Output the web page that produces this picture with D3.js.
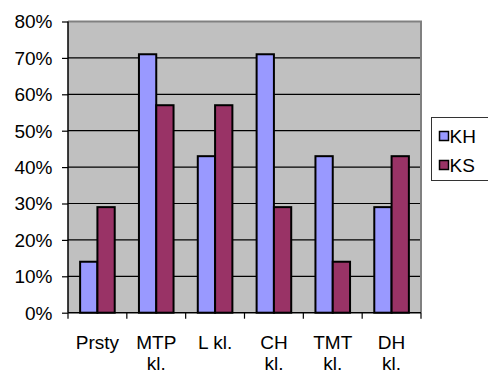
<!DOCTYPE html>
<html><head><meta charset="utf-8">
<script src="https://cdn.jsdelivr.net/npm/d3@7"></script>
<style>body{margin:0;background:#fff}svg{display:block}text{font-family:"Liberation Sans",Arial,sans-serif}</style>
</head><body><svg id="c" width="488" height="374"></svg>
<script>
const categories = [["Prsty"],["MTP","kl."],["L kl."],["CH","kl."],["TMT","kl."],["DH","kl."]];
const seriesNames = ["KH","KS"];
const kh = [14, 71, 43, 71, 43, 29];
const ks = [29, 57, 57, 29, 14, 43];
const yTicks = [0,10,20,30,40,50,60,70,80];
const colors = ["#9999FF","#993366"];

const SX = 1.0, FS = 19;
const svg = d3.select("#c");
const L=68, R=421, T=21.5, B=312.7;
const x = d3.scaleBand().domain(d3.range(categories.length)).range([L,R]).paddingInner(0).paddingOuter(0);
const y = d3.scaleLinear().domain([0,80]).range([B,T]);
const bw = 17.3;
const x1 = d3.scaleBand().domain([0,1]).range([0, bw*2]);

function label(px, py, lines, anchor){
  const g = svg.append("g").attr("transform",`translate(${px},${py}) scale(${SX},1)`);
  const t = g.append("text").attr("text-anchor",anchor).attr("font-size",FS).attr("fill","#000");
  lines.forEach((s,k)=>t.append("tspan").attr("x",0).attr("dy",k?21:0).text(s));
  return t;
}

svg.append("rect").attr("x",L).attr("y",T).attr("width",R-L).attr("height",B-T).attr("fill","#C0C0C0");
svg.append("g").selectAll("line").data(yTicks.filter(d=>d>0&&d<80)).join("line")
  .attr("x1",L).attr("x2",R).attr("y1",d=>y(d)).attr("y2",d=>y(d)).attr("stroke","#000").attr("stroke-width",1.2);
svg.append("path").attr("d",`M${L},${T}H${R}V${B}`).attr("fill","none").attr("stroke","#808080").attr("stroke-width",2);

const data = [kh, ks];
const g = svg.append("g");
data.forEach((vals,si)=>{
  g.selectAll(null).data(vals).join("rect")
   .attr("x",(d,i)=>x(i)+(x.bandwidth()-bw*2)/2 + x1(si))
   .attr("y",d=>y(d)).attr("width",x1.bandwidth()).attr("height",d=>B-y(d))
   .attr("fill",colors[si]).attr("stroke","#000").attr("stroke-width",2);
});

const ya = svg.append("g").attr("transform",`translate(${L},0)`)
  .call(d3.axisLeft(y).tickValues(yTicks).tickFormat("").tickSize(6));
ya.select(".domain").attr("stroke","#000").attr("stroke-width",1.5).attr("d",`M0,${T}V${B}`);
ya.selectAll("line").attr("stroke","#000").attr("stroke-width",1.2);
yTicks.forEach(v=>label(52.5, y(v)+6.8, [v+"%"], "end"));

const xa = svg.append("g").attr("transform",`translate(0,${B})`)
  .call(d3.axisBottom(x).tickSize(0).tickFormat(""));
xa.select(".domain").attr("stroke","#000").attr("stroke-width",1.5).attr("d",`M${L},0H${R}`);
const ticksX = d3.range(categories.length+1).map(i=> i<categories.length ? x(i) : R);
svg.append("g").selectAll("line").data(ticksX).join("line")
  .attr("x1",d=>d).attr("x2",d=>d).attr("y1",B).attr("y2",B+6).attr("stroke","#000").attr("stroke-width",1.2);
categories.forEach((lines,i)=> label(x(i)+x.bandwidth()/2, 348.5, lines, "middle"));

const lg = svg.append("g");
lg.append("rect").attr("x",431.5).attr("y",117.5).attr("width",60).attr("height",63).attr("fill","#fff").attr("stroke","#333").attr("stroke-width",1);
seriesNames.forEach((n,i)=>{
  const cy = 136 + i*29;
  lg.append("rect").attr("x",439.5).attr("y",cy-4.5).attr("width",9).attr("height",9).attr("fill",colors[i]).attr("stroke","#000").attr("stroke-width",1.5);
  label(449.5, cy+6.8, [n], "start");
});
</script></body></html>
